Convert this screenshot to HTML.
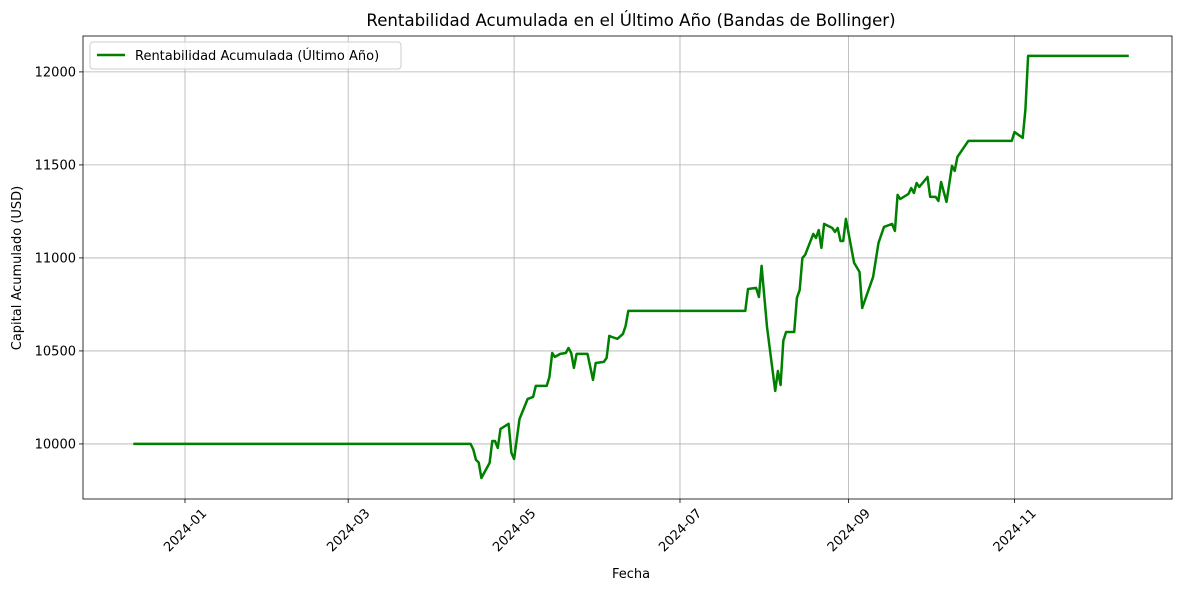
<!DOCTYPE html>
<html><head><meta charset="utf-8"><style>
body{margin:0;background:#fff;font-family:"Liberation Sans","DejaVu Sans",sans-serif;}
svg text{font-family:"DejaVu Sans","Liberation Sans",sans-serif;}
</style></head><body>
<svg id="chart" width="1189" height="590" xmlns="http://www.w3.org/2000/svg">
<rect width="1189" height="590" fill="#fff"/>
<g id="grid"></g>
<g id="axes"></g>
<g id="series"></g>
</svg>
<script>
const days = [-19,105,106,107,108,109,112,113,114,115,116,119,120,121,123,126,128,129,133,134,135,136,138,140,141,142,143,144,148,150,151,154,155,156,157,159,161,162,163,206,207,210,211,212,214,217,218,219,220,221,224,225,226,227,228,231,232,233,234,235,238,239,240,241,242,243,246,248,249,253,255,257,260,261,262,263,266,267,268,269,270,273,274,276,277,278,280,282,283,284,288,304,305,308,309,310,347];
const values = [10000,10000,9970,9914,9900,9817,9898,10016,10016,9978,10081,10108,9952,9919,10134,10242,10253,10312,10312,10360,10489,10468,10484,10489,10516,10489,10409,10484,10484,10344,10435,10441,10462,10581,10575,10565,10591,10634,10715,10715,10833,10839,10790,10957,10629,10285,10392,10317,10554,10602,10602,10785,10828,11000,11016,11129,11107,11150,11054,11183,11161,11140,11161,11091,11091,11210,10973,10925,10731,10898,11081,11167,11183,11145,11339,11317,11344,11376,11349,11403,11382,11435,11328,11328,11306,11408,11301,11495,11468,11543,11629,11629,11677,11645,11796,12086,12086];
const yTicks = [10000,10500,11000,11500,12000];
const xTickLabels = ["2024-01","2024-03","2024-05","2024-07","2024-09","2024-11"];
const xTickDays = [0,60,121,182,244,305];

const L=83,R=1172,T=36,B=499;
const xMin=-37.5,xMax=362.9,yMin=9704,yMax=12193;
const sx=d=>L+(d-xMin)/(xMax-xMin)*(R-L);
const sy=v=>B-(v-yMin)/(yMax-yMin)*(B-T);
const NS="http://www.w3.org/2000/svg";
function mk(tag,attrs,parent,txt){const e=document.createElementNS(NS,tag);for(const k in attrs)e.setAttribute(k,attrs[k]);if(txt!==undefined)e.textContent=txt;parent.appendChild(e);return e;}
const grid=document.getElementById('grid'),axes=document.getElementById('axes'),series=document.getElementById('series'),svg=document.getElementById('chart');

xTickDays.forEach((d,i)=>{
  const x=sx(d);
  const gl=mk('line',{x1:x,x2:x,y1:T,y2:B,stroke:'#b0b0b0','stroke-width':0.8},grid);
  
  
  mk('line',{x1:x,x2:x,y1:B,y2:B+4,stroke:'#000','stroke-width':0.8},axes);
  const cy=B+31;
  const t=mk('text',{x:x,y:cy+4.5,'font-size':13,'text-anchor':'middle',transform:`rotate(-45 ${x} ${cy})`},axes,xTickLabels[i]);
  
  
});
yTicks.forEach(v=>{
  const y=sy(v);
  const gl=mk('line',{x1:L,x2:R,y1:y,y2:y,stroke:'#b0b0b0','stroke-width':0.8},grid);
  
  
  mk('line',{x1:L-4,x2:L,y1:y,y2:y,stroke:'#000','stroke-width':0.8},axes);
  const t=mk('text',{x:L-7,y:y+4.5,'font-size':13,'text-anchor':'end'},axes,String(v));
  
  
});
const frame=mk('rect',{x:L,y:T,width:R-L,height:B-T,fill:'none',stroke:'#000','stroke-width':0.8},axes);



const pts=days.map((d,i)=>sx(d).toFixed(1)+','+sy(values[i]).toFixed(1)).join(' ');
const line=mk('polyline',{points:pts,fill:'none',stroke:'#008000','stroke-width':2.5,'stroke-linejoin':'round'},series);



const title=mk('text',{x:631,y:26,'font-size':16.6,'text-anchor':'middle'},svg,'Rentabilidad Acumulada en el Último Año (Bandas de Bollinger)');


const xl=mk('text',{x:631,y:578,'font-size':13,'text-anchor':'middle'},svg,'Fecha');


const yl=mk('text',{x:21,y:268,'font-size':13,'text-anchor':'middle',transform:'rotate(-90 21 268)'},svg,'Capital Acumulado (USD)');



const lg=mk('g',{},svg);


mk('rect',{x:90,y:42,width:311,height:27,rx:3,fill:'#fff','fill-opacity':0.8,stroke:'#ccc','stroke-width':1},lg);
mk('line',{x1:97,x2:125,y1:55,y2:55,stroke:'#008000','stroke-width':2.5},lg);
const le=mk('text',{x:135,y:60,'font-size':13},lg,'Rentabilidad Acumulada (Último Año)');


</script>
</body></html>
